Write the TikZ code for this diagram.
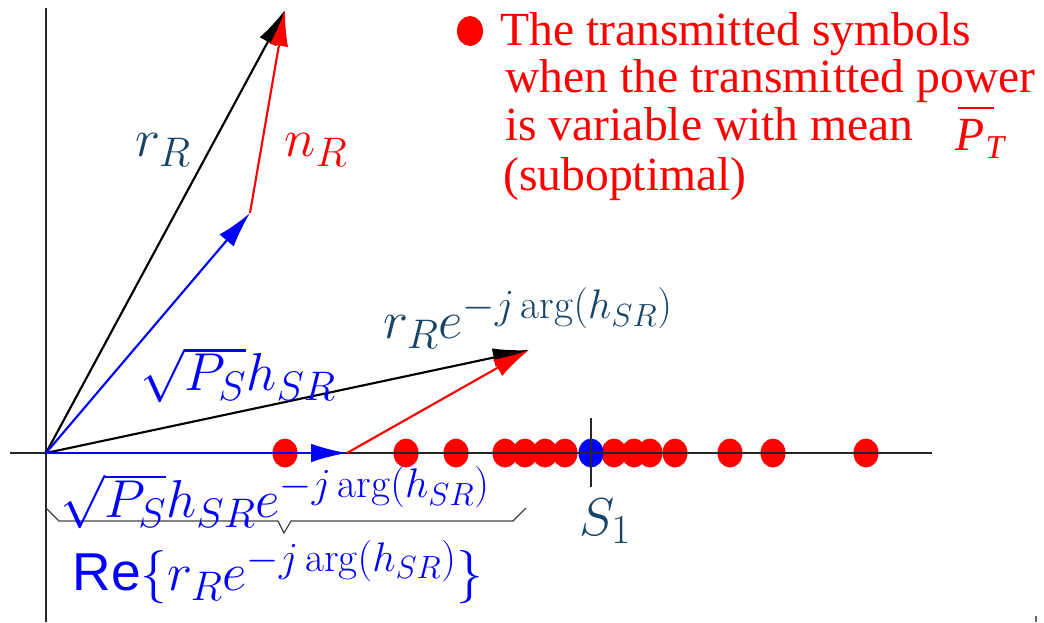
\RequirePackage{fix-cm}
\documentclass[tikz,border=0pt]{standalone}
\usepackage{fontspec}
\newfontfamily\legendfont{Liberation Serif}
\newfontfamily\resans{Liberation Sans}
\usetikzlibrary{arrows.meta}
\DeclareMathSizes{40}{40}{31}{24}
\DeclareMathSizes{35.7}{35.7}{25}{20}
\definecolor{dblue}{RGB}{22,68,105}
\tikzset{
  vec/.style={line width=1.6pt,-{Latex[length=27pt,width=14pt]}},
  axis/.style={line width=0.8pt,black!85},
  sym/.style={fill=red,draw=none},
  mlabel/.style={inner sep=0pt,font=\fontsize{40}{46}\selectfont},
  leg/.style={inner sep=0pt,anchor=base west,text=red,font=\fontsize{35.7}{40}\selectfont\legendfont},
}
\begin{document}
\begin{tikzpicture}[x=0.75pt,y=-0.75pt]
\useasboundingbox (0,0) rectangle (1044,622);
% symbols on the real axis
\foreach \xx in {285,406,456,505,525,545,565,614,634,650,675,730,773,866}
  \fill[sym] (\xx,453) ellipse [x radius=12.5,y radius=14.5];
\fill[blue] (591,453) ellipse [x radius=12.5,y radius=14.5];
% axes
\draw[axis] (46,8) -- (46,622);
\draw[axis] (10,453) -- (932,453);
\draw[axis,line width=1pt] (591,418) -- (591,487);
\draw[black!60,line width=1pt] (1036,616) -- (1036,622);
% points
\coordinate (O) at (46,453);
\coordinate (A) at (250,213);
\coordinate (B) at (285,10);
\coordinate (C) at (347,453);
\coordinate (D) at (529,350);
% vectors
\draw[vec,black] (O) -- (B);
\draw[vec,red] (A) -- (B);
\draw[vec,blue] (O) -- (A);
\draw[vec,black] (O) -- (D);
\draw[vec,red] (C) -- (D);
\draw[vec,blue] (O) -- (C);
% brace
\draw[black!75,line width=0.9pt] (46,508) -- (59,521) -- (278,521) -- (284,533) -- (291,521) -- (513,521) -- (526,508);
% labels
\node[mlabel,text=dblue] (lr) at (163,150) {$r_R$};
\node[mlabel,text=red] (ln) at (316,150) {$n_R$};
\node[mlabel,text=blue] (lp) at (238,375) {$\sqrt{P_S}h_{SR}$};
\node[mlabel,text=dblue] (lrr) at (528,318) {$r_Re^{-j\arg(h_{SR})}$};
\node[mlabel,text=blue] (lpp) at (275,498) {$\sqrt{P_S}h_{SR}e^{-j\arg(h_{SR})}$};
\node[mlabel,text=blue] (lre) at (278,572) {{\resans Re}$\{r_Re^{-j\arg(h_{SR})}\}$};
\node[mlabel,text=dblue] (ls) at (605,521) {$S_1$};
% legend
\fill[red] (470,31) ellipse [x radius=13,y radius=15];
\node[leg] (l1) at (500,45) {The transmitted symbols};
\node[leg] (l2) at (505,92) {when the transmitted power};
\node[leg] (l3) at (505,140) {is variable with mean};
\draw[red,line width=1.8pt] (958,108) -- (994,108);
\node[leg] (l3b) at (955,150) {\itshape P\kern1pt\raisebox{-6pt}{\fontsize{25}{25}\selectfont T}};
\node[leg] (l4) at (503,190) {(suboptimal)};
\end{tikzpicture}
\end{document}
